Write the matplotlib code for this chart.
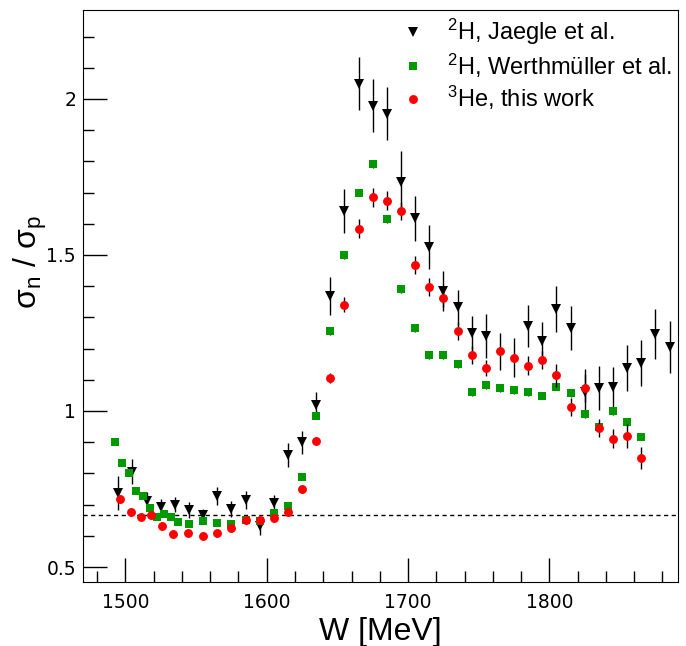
import matplotlib
matplotlib.use("Agg")
import matplotlib.pyplot as plt
from matplotlib.lines import Line2D
from matplotlib.ticker import MultipleLocator

plt.rcParams['font.family'] = ['Liberation Sans', 'DejaVu Sans']
plt.rcParams['mathtext.fontset'] = 'custom'
plt.rcParams['mathtext.rm'] = 'Liberation Sans'
plt.rcParams['mathtext.it'] = 'Liberation Sans'
plt.rcParams['mathtext.default'] = 'regular'

# 2H, Jaegle et al.
w_jaegle = [1495, 1505, 1515, 1525, 1535, 1545, 1555, 1565, 1575, 1585, 1595,
            1605, 1615, 1625, 1635, 1645, 1655, 1665, 1675, 1685, 1695, 1705,
            1715, 1725, 1735, 1745, 1755, 1785, 1795, 1805, 1815, 1825, 1835,
            1845, 1855, 1865, 1875, 1885]
r_jaegle = [0.738, 0.805, 0.711, 0.693, 0.700, 0.683, 0.667, 0.728, 0.686, 0.715,
            0.632, 0.706, 0.859, 0.900, 1.020, 1.369, 1.641, 2.048, 1.978, 1.952,
            1.734, 1.618, 1.526, 1.385, 1.333, 1.250, 1.240, 1.272, 1.224, 1.327,
            1.266, 1.060, 1.073, 1.077, 1.138, 1.154, 1.247, 1.205]
e_jaegle = [0.055, 0.040, 0.030, 0.025, 0.025, 0.025, 0.018, 0.028, 0.025, 0.030,
            0.028, 0.025, 0.040, 0.037, 0.040, 0.060, 0.070, 0.085, 0.085, 0.085,
            0.100, 0.072, 0.070, 0.065, 0.056, 0.053, 0.070, 0.067, 0.061, 0.073,
            0.072, 0.075, 0.070, 0.065, 0.075, 0.075, 0.080, 0.083]

# 2H, Werthmueller et al.
w_werth = [1492.5, 1497.5, 1502.5, 1507.5, 1512.5, 1517.5, 1522.5, 1527.5, 1532.5,
           1537.5, 1545, 1555, 1565, 1575, 1585, 1595, 1605, 1615, 1625, 1635,
           1645, 1655, 1665, 1675, 1685, 1695, 1705, 1715, 1725, 1735, 1745, 1755,
           1765, 1775, 1785, 1795, 1805, 1815, 1825, 1835, 1845, 1855, 1865]
r_werth = [0.900, 0.833, 0.800, 0.744, 0.728, 0.689, 0.660, 0.670, 0.660, 0.645,
           0.637, 0.647, 0.641, 0.637, 0.650, 0.647, 0.672, 0.695, 0.790, 0.984,
           1.256, 1.500, 1.700, 1.790, 1.615, 1.391, 1.265, 1.180, 1.180, 1.150,
           1.061, 1.083, 1.074, 1.067, 1.060, 1.049, 1.078, 1.057, 0.990, 0.948,
           1.000, 0.964, 0.918]
e_werth = [0.008] * 20 + [0.012] * 23

# 3He, this work
w_he3 = [1496, 1504, 1511, 1518, 1526, 1534, 1544, 1555, 1565, 1575, 1585, 1595,
         1605, 1615, 1625, 1635, 1645, 1655, 1665, 1675, 1685, 1695, 1705, 1715,
         1725, 1735, 1745, 1755, 1765, 1775, 1785, 1795, 1805, 1815, 1825, 1835,
         1845, 1855, 1865]
r_he3 = [0.718, 0.677, 0.660, 0.667, 0.632, 0.606, 0.610, 0.599, 0.608, 0.624,
         0.650, 0.650, 0.657, 0.677, 0.750, 0.904, 1.106, 1.340, 1.584, 1.685,
         1.674, 1.641, 1.468, 1.398, 1.363, 1.256, 1.180, 1.139, 1.191, 1.171,
         1.145, 1.163, 1.114, 1.013, 1.073, 0.945, 0.911, 0.920, 0.850]
e_he3 = [0.012, 0.012, 0.012, 0.012, 0.012, 0.012, 0.012, 0.012, 0.012, 0.012,
         0.012, 0.012, 0.012, 0.012, 0.012, 0.012, 0.017, 0.024, 0.030, 0.030,
         0.030, 0.030, 0.028, 0.028, 0.030, 0.028, 0.028, 0.026, 0.060, 0.063,
         0.030, 0.030, 0.038, 0.030, 0.045, 0.028, 0.030, 0.037, 0.035]

labels = ['$^{2}$H, Jaegle et al.', '$^{2}$H, Werthmüller et al.',
          '$^{3}$He, this work']
ratio_line = 2.0 / 3.0

fig = plt.figure(figsize=(6.86, 6.46), dpi=100)
ax = fig.add_axes([83 / 686, 1 - 582 / 646, 595 / 686, 572 / 646])

ax.axhline(ratio_line, color='black', lw=1.0, ls=(0, (3, 2.5)), zorder=1)

ax.errorbar(w_jaegle, r_jaegle, yerr=e_jaegle, fmt='v', color='black',
            ms=6.5, mew=0, ecolor='black', elinewidth=1.0, capsize=0, zorder=2)
ax.errorbar(w_werth, r_werth, yerr=e_werth, fmt='s', color='#009900',
            ms=5.3, mew=0, ecolor='black', elinewidth=1.0, capsize=0, zorder=3)
ax.errorbar(w_he3, r_he3, yerr=e_he3, fmt='o', color='#ff0000',
            ms=6.4, mew=0, ecolor='black', elinewidth=1.0, capsize=0, zorder=4)

ax.set_xlim(1470, 1891)
ax.set_ylim(0.452, 2.285)

ax.xaxis.set_major_locator(MultipleLocator(100))
ax.xaxis.set_minor_locator(MultipleLocator(20))
ax.yaxis.set_minor_locator(MultipleLocator(0.1))
ax.set_yticks([0.5, 1, 1.5, 2])
ax.set_yticklabels(['0.5', '1', '1.5', '2'])
ax.tick_params(which='both', direction='in', top=False, right=False, width=1)
ax.tick_params(which='major', length=17)
ax.tick_params(which='minor', length=8)
ax.tick_params(axis='x', pad=8)
ax.tick_params(axis='y', pad=5)
for lab in ax.get_xticklabels() + ax.get_yticklabels():
    lab.set_fontfamily('DejaVu Sans')
    lab.set_fontsize(13.5)

fig.text(380 / 686, 1 - 632 / 646, 'W [MeV]', fontsize=23,
         ha='center', va='center')
fig.text(30 / 686, 1 - 262 / 646, 'σ$_{n}$ / σ$_{p}$', fontsize=23,
         ha='center', va='center', rotation=90)

handles = [
    Line2D([], [], ls='none', marker='v', color='black', ms=6.5, mew=0),
    Line2D([], [], ls='none', marker='s', color='#009900', ms=5.3, mew=0),
    Line2D([], [], ls='none', marker='o', color='#ff0000', ms=6.4, mew=0),
]
ax.legend(handles, labels, loc='upper left',
          bbox_to_anchor=(395 / 686, 1 - 17 / 646),
          bbox_transform=fig.transFigure, frameon=False, fontsize=17,
          handletextpad=0.7, labelspacing=0.18, borderaxespad=0,
          borderpad=0, handlelength=1.5, numpoints=1)

fig.savefig('out.png', dpi=100)
